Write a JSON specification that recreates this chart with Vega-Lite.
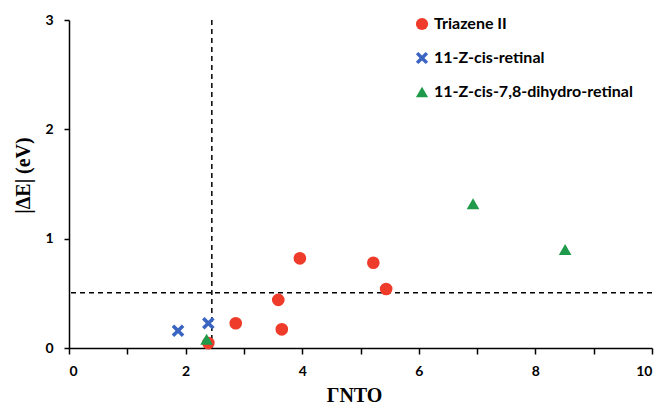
{
  "$schema": "https://vega.github.io/schema/vega-lite/v6.json",
  "width": 583,
  "height": 328,
  "autosize": {"type": "none"},
  "padding": {"left": 69, "top": 20, "right": 10, "bottom": 63},
  "config": {"view": {"stroke": null}},
  "datasets": {
    "pts": [
      {"series": "Triazene II", "gamma": 2.39, "dE": 0.045},
      {"series": "Triazene II", "gamma": 2.86, "dE": 0.226},
      {"series": "Triazene II", "gamma": 3.59, "dE": 0.44},
      {"series": "Triazene II", "gamma": 3.65, "dE": 0.171},
      {"series": "Triazene II", "gamma": 3.96, "dE": 0.82},
      {"series": "Triazene II", "gamma": 5.22, "dE": 0.78},
      {"series": "Triazene II", "gamma": 5.44, "dE": 0.54},
      {"series": "11-Z-cis-retinal", "gamma": 1.87, "dE": 0.158},
      {"series": "11-Z-cis-retinal", "gamma": 2.39, "dE": 0.226},
      {"series": "11-Z-cis-7,8-dihydro-retinal", "gamma": 2.36, "dE": 0.08},
      {"series": "11-Z-cis-7,8-dihydro-retinal", "gamma": 6.93, "dE": 1.32},
      {"series": "11-Z-cis-7,8-dihydro-retinal", "gamma": 8.51, "dE": 0.9}
    ],
    "hline": [{"y": 0.506}],
    "vline": [{"x": 2.45}]
  },
  "layer": [
    {
      "data": {"name": "hline"},
      "mark": {"type": "rule", "color": "black", "strokeWidth": 1.5, "strokeDash": [5, 4]},
      "encoding": {"y": {"field": "y", "type": "quantitative", "scale": {"domain": [0, 3], "nice": false}}}
    },
    {
      "data": {"name": "vline"},
      "mark": {"type": "rule", "color": "black", "strokeWidth": 1.5, "strokeDash": [5, 4]},
      "encoding": {"x": {"field": "x", "type": "quantitative", "scale": {"domain": [0, 10], "nice": false}}}
    },
    {
      "data": {"name": "pts"},
      "mark": {"type": "point", "filled": true, "opacity": 1, "size": 160},
      "encoding": {
        "x": {
          "field": "gamma", "type": "quantitative",
          "scale": {"domain": [0, 10], "nice": false},
          "axis": {
            "title": "ΓNTO",
            "values": [0, 1, 2, 3, 4, 5, 6, 7, 8, 9, 10],
            "format": "d",
            "labelExpr": "datum.value % 2 == 0 ? datum.label : ''",
            "grid": false,
            "domainColor": "black", "domainWidth": 1.5,
            "tickColor": "black", "tickWidth": 1.5, "tickSize": 6,
            "labelFont": "Lato", "labelFontWeight": "bold", "labelFontSize": 14, "labelColor": "black", "labelPadding": 10,
            "titleFont": "Liberation Serif", "titleFontWeight": "bold", "titleFontSize": 20, "titleColor": "black", "titlePadding": 7,
            "titleX": 285
          }
        },
        "y": {
          "field": "dE", "type": "quantitative",
          "scale": {"domain": [0, 3], "nice": false},
          "axis": {
            "title": "|ΔE| (eV)",
            "values": [0, 0.5, 1, 1.5, 2, 2.5, 3],
            "format": "d",
            "labelExpr": "datum.value % 1 == 0 ? datum.label : ''",
            "grid": false,
            "domainColor": "black", "domainWidth": 1.5,
            "tickColor": "black", "tickWidth": 1.5, "tickSize": 5,
            "labelFont": "Lato", "labelFontWeight": "bold", "labelFontSize": 14, "labelColor": "black", "labelPadding": 11,
            "titleFont": "Liberation Serif", "titleFontWeight": "bold", "titleFontSize": 20, "titleColor": "black", "titlePadding": 11,
            "titleY": 155
          }
        },
        "color": {
          "field": "series", "type": "nominal",
          "scale": {
            "domain": ["Triazene II", "11-Z-cis-retinal", "11-Z-cis-7,8-dihydro-retinal"],
            "range": ["#ef3b2a", "#3a64c2", "#1f9a4a"]
          },
          "legend": {
            "title": null,
            "orient": "none",
            "legendX": 345,
            "legendY": -4,
            "labelFont": "Lato", "labelFontWeight": "bold", "labelFontSize": 16, "labelColor": "black",
            "labelLimit": 300, "labelOffset": 4,
            "symbolSize": 150, "rowPadding": 18, "symbolOpacity": 1
          }
        },
        "shape": {
          "field": "series", "type": "nominal",
          "scale": {
            "domain": ["Triazene II", "11-Z-cis-retinal", "11-Z-cis-7,8-dihydro-retinal"],
            "range": ["circle", "M-1,-0.6L-0.6,-1L0,-0.4L0.6,-1L1,-0.6L0.4,0L1,0.6L0.6,1L0,0.4L-0.6,1L-1,0.6L-0.4,0Z", "triangle-up"]
          },
          "legend": null
        }
      }
    }
  ]
}
